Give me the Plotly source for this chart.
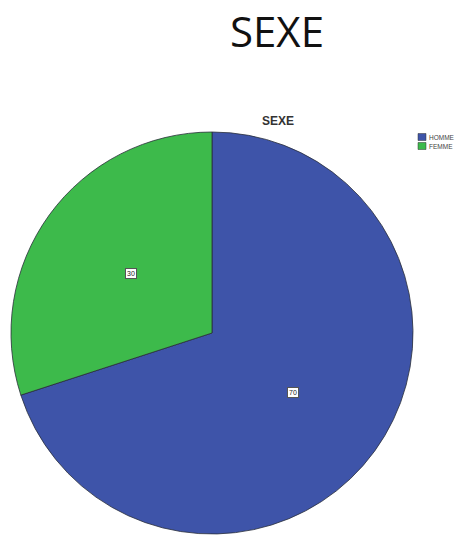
import math
import plotly.graph_objects as go

categories = ["HOMME", "FEMME"]
values = [70, 30]
colors = ["#3e54a9", "#3dba4b"]

W, H = 461, 537
cx_px, cy_px, r_px = 212, 333, 201

fig = go.Figure(go.Pie(
    labels=categories,
    values=values,
    sort=False,
    direction="clockwise",
    rotation=0,
    marker=dict(colors=colors, line=dict(color="#2a2f3a", width=0.8)),
    textinfo="none",
    hoverinfo="label+value",
    showlegend=False,
    domain=dict(
        x=[(cx_px - r_px) / W, (cx_px + r_px) / W],
        y=[1 - (cy_px + r_px) / H, 1 - (cy_px - r_px) / H],
    ),
))

# value labels in small boxes, placed along each slice's mid-angle
total = sum(values)
start = 0.0
annotations = []
for v in values:
    mid = (start + v / 2) / total * 2 * math.pi
    start += v
    px = cx_px + 0.5 * r_px * math.sin(mid)
    py = cy_px - 0.5 * r_px * math.cos(mid)
    annotations.append(dict(
        x=px / W, y=1 - py / H, xref="paper", yref="paper",
        xanchor="center", yanchor="middle",
        text=str(v), showarrow=False,
        font=dict(family="Arial", size=7, color="#222222"),
        bgcolor="white", bordercolor="#555555", borderwidth=1, borderpad=1,
    ))

# main heading
annotations.append(dict(
    x=277 / W, y=1 - 30 / H, xref="paper", yref="paper",
    xanchor="center", yanchor="middle",
    text="SEXE", showarrow=False,
    font=dict(family="Open Sans", size=42, color="#111111"),
))

# chart heading inside the plot frame
annotations.append(dict(
    x=278 / W, y=1 - 121 / H, xref="paper", yref="paper",
    xanchor="center", yanchor="middle",
    text="<b>SEXE</b>", showarrow=False,
    font=dict(family="Arial", size=12, color="#333333"),
))

# legend: colour swatches with category names
shapes = []
for i, (cat, col) in enumerate(zip(categories, colors)):
    yc = 137 + i * 9
    shapes.append(dict(
        type="rect", xref="paper", yref="paper",
        x0=418 / W, x1=426 / W, y0=1 - (yc + 3.5) / H, y1=1 - (yc - 3.5) / H,
        fillcolor=col, line=dict(color="#333333", width=0.5),
    ))
    annotations.append(dict(
        x=427 / W, y=1 - yc / H, xref="paper", yref="paper",
        xanchor="left", yanchor="middle",
        text=cat, showarrow=False,
        font=dict(family="Arial", size=6.5, color="#444444"),
    ))

fig.update_layout(
    width=W, height=H,
    margin=dict(l=0, r=0, t=0, b=0),
    paper_bgcolor="white",
    plot_bgcolor="white",
    annotations=annotations,
    shapes=shapes,
)

fig.write_html("out.html")
